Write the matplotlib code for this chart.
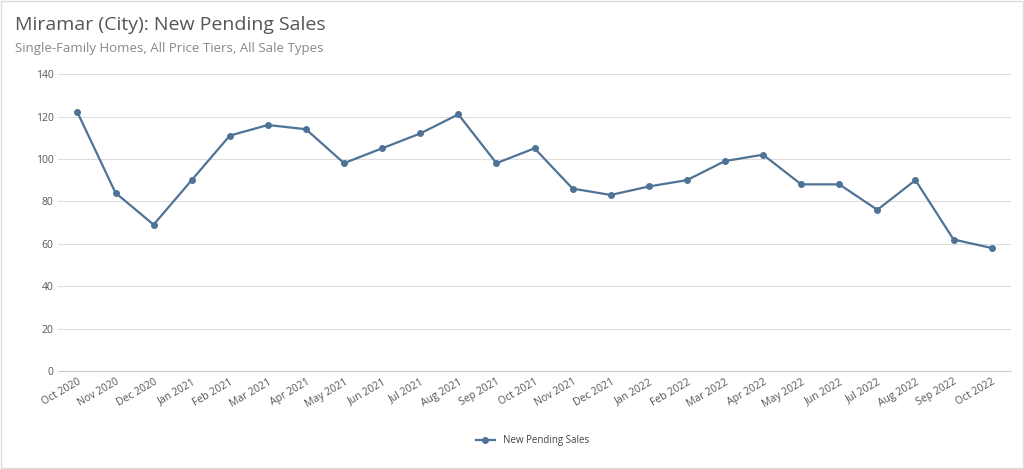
import matplotlib
matplotlib.use("Agg")
import matplotlib.pyplot as plt

months = ["Oct 2020","Nov 2020","Dec 2020","Jan 2021","Feb 2021","Mar 2021","Apr 2021","May 2021",
          "Jun 2021","Jul 2021","Aug 2021","Sep 2021","Oct 2021","Nov 2021","Dec 2021","Jan 2022",
          "Feb 2022","Mar 2022","Apr 2022","May 2022","Jun 2022","Jul 2022","Aug 2022","Sep 2022","Oct 2022"]
pending = [122,84,69,90,111,116,114,98,105,112,121,98,105,86,83,87,90,99,102,88,88,76,90,62,58]
yticks = [0,20,40,60,80,100,120,140]

plt.rcParams["font.family"] = "Open Sans"
fig = plt.figure(figsize=(10.24,4.69), dpi=100)
ax = fig.add_axes([0.057, 0.209, 0.93, 0.633])
color = "#4e7396"
x = range(len(months))
ax.plot(x, pending, color=color, lw=1.6, marker="o", ms=4, label="New Pending Sales")
ax.set_ylim(0,140)
ax.set_xlim(-0.5, len(months)-0.5)
ax.set_yticks(yticks)
ax.set_xticks(list(x))
ax.set_xticklabels(months, rotation=30, ha="right", rotation_mode="anchor", fontsize=7.5, color="#555555")
ax.tick_params(axis="y", labelsize=7.5, colors="#555555", length=0)
ax.tick_params(axis="x", length=0, pad=4)
ax.grid(axis="y", color="#dddddd", lw=0.8)
ax.set_axisbelow(True)
for s in ["top","right","left"]:
    ax.spines[s].set_visible(False)
ax.spines["bottom"].set_color("#cccccc")
fig.text(0.015, 0.935, "Miramar (City): New Pending Sales", fontsize=14, color="#555555")
fig.text(0.015, 0.89, "Single-Family Homes, All Price Tiers, All Sale Types", fontsize=9.5, color="#888888")
fig.legend(loc="lower center", bbox_to_anchor=(0.52, 0.03), frameon=False, fontsize=7, labelcolor="#444444")
fig.patches.append(plt.Rectangle((0.001,0.002),0.998,0.996, transform=fig.transFigure, fill=False, ec="#dddddd", lw=1))
fig.savefig("out.png", dpi=100)
